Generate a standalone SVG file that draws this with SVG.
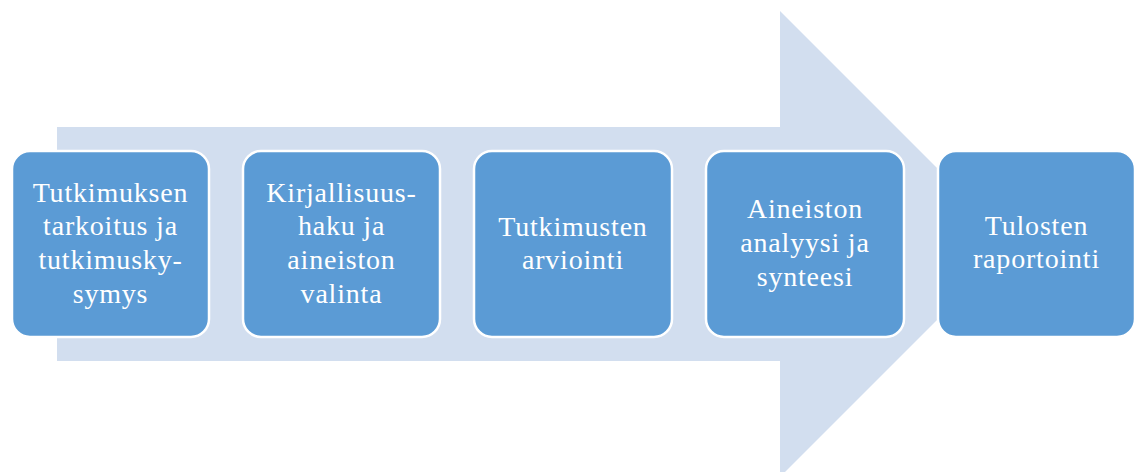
<svg xmlns="http://www.w3.org/2000/svg" width="1136" height="472" viewBox="0 0 1136 472">
<style>
.box{fill:#5B9BD5;stroke:#FFFFFF;stroke-width:2.5}
.lbl{font-family:"Liberation Serif","DejaVu Serif",serif;font-size:28px;fill:#FFFFFF;text-anchor:middle;letter-spacing:0.8px}
</style>
<rect width="1136" height="472" fill="#FFFFFF"/>
<g id="arrow">
<polygon points="57,127 780,127 780,11 1013,244 780,477 780,361 57,361" fill="#D2DEEF"/>
</g>
<g id="connectors"></g>
<g id="n1">
<rect class="box" x="12" y="151" width="197" height="186" rx="18"/>
<text class="lbl"><tspan x="110.5" y="202">Tutkimuksen</tspan><tspan x="110.5" y="235">tarkoitus ja</tspan><tspan x="110.5" y="269">tutkimusky-</tspan><tspan x="110.5" y="303">symys</tspan></text>
</g>
<g id="n2">
<rect class="box" x="243" y="151" width="197" height="186" rx="18"/>
<text class="lbl"><tspan x="341.5" y="202">Kirjallisuus-</tspan><tspan x="341.5" y="235">haku ja</tspan><tspan x="341.5" y="269">aineiston</tspan><tspan x="341.5" y="303">valinta</tspan></text>
</g>
<g id="n3">
<rect class="box" x="474" y="151" width="198" height="186" rx="18"/>
<text class="lbl"><tspan x="573" y="236">Tutkimusten</tspan><tspan x="573" y="269">arviointi</tspan></text>
</g>
<g id="n4">
<rect class="box" x="706" y="151" width="198" height="186" rx="18"/>
<text class="lbl"><tspan x="805" y="218">Aineiston</tspan><tspan x="805" y="252">analyysi ja</tspan><tspan x="805" y="286">synteesi</tspan></text>
</g>
<g id="n5">
<rect class="box" x="938" y="151" width="197" height="186" rx="18"/>
<text class="lbl"><tspan x="1036.5" y="235">Tulosten</tspan><tspan x="1036.5" y="268">raportointi</tspan></text>
</g>
</svg>
